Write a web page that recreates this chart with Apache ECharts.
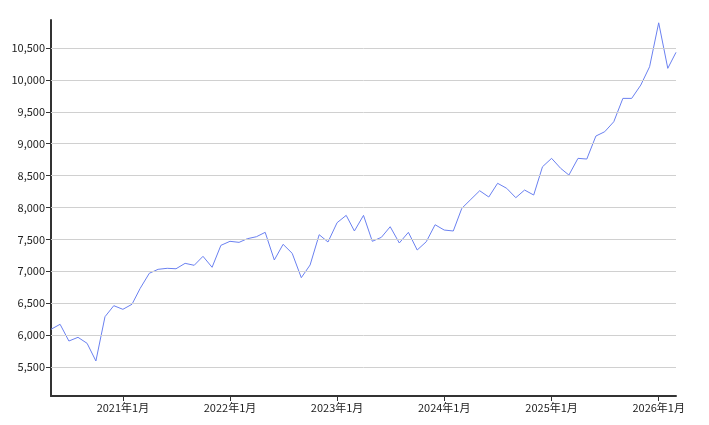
<!DOCTYPE html>
<html>
<head>
<meta charset="utf-8">
<script src="https://cdn.jsdelivr.net/npm/echarts@6/dist/echarts.min.js"></script>
<style>html,body{margin:0;padding:0;background:#fff}#chart{width:709px;height:425px}</style>
</head>
<body>
<div id="chart"></div>
<script>
// monthly values from 2020-05 to 2026-03
const startYear = 2020, startMonth = 5;
const values = [
  6091, 6169, 5907, 5965, 5871, 5594, 6288, 6461, 6404, 6483, 6733, 6969,
  7031, 7047, 7040, 7125, 7094, 7235, 7063, 7407, 7470, 7454, 7511, 7542,
  7611, 7177, 7423, 7282, 6900, 7099, 7574, 7459, 7762, 7877, 7632, 7877,
  7470, 7533, 7699, 7444, 7611, 7334, 7464, 7730, 7647, 7632, 7987, 8128,
  8263, 8165, 8380, 8301, 8154, 8274, 8196, 8639, 8771, 8614, 8509, 8771,
  8760, 9121, 9188, 9345, 9711, 9711, 9920, 10207, 10896, 10182, 10433
];
const yTicks = [5500, 6000, 6500, 7000, 7500, 8000, 8500, 9000, 9500, 10000, 10500];
const xTickYears = [2021, 2022, 2023, 2024, 2025, 2026];

// x is days since the first month
const DAY = 86400000;
const t0 = Date.UTC(startYear, startMonth - 1, 1);
function dayOf(y, m) { return (Date.UTC(y, m, 1) - t0) / DAY; }
const points = values.map(function (v, i) { return [dayOf(startYear, startMonth - 1 + i), v]; });
const xTickDays = xTickYears.map(function (y) { return dayOf(y, 0); });
function dayLabel(d) {
  const dt = new Date(t0 + d * DAY);
  return dt.getUTCFullYear() + '年' + (dt.getUTCMonth() + 1) + '月';
}

const chart = echarts.init(document.getElementById('chart'));
const font = 'Noto Sans CJK JP';
chart.setOption({
  animation: false,
  grid: { left: 51, right: 33, top: 20, bottom: 29 },
  xAxis: {
    type: 'value',
    min: 0,
    max: points[points.length - 1][0],
    axisLine: { lineStyle: { color: '#333', width: 2 } },
    axisTick: { show: true, customValues: xTickDays, length: 5, lineStyle: { color: '#333' } },
    axisLabel: { customValues: xTickDays, color: '#222', fontFamily: font, fontSize: 11, margin: 6, formatter: dayLabel },
    splitLine: { show: false }
  },
  yAxis: {
    type: 'value',
    min: 5045,
    max: 10940,
    axisLine: { show: true, lineStyle: { color: '#333', width: 2 } },
    axisTick: { show: true, customValues: yTicks, length: 5, lineStyle: { color: '#333' } },
    axisLabel: {
      customValues: yTicks, color: '#222', fontFamily: font, fontSize: 11, margin: 6,
      formatter: function (v) { return v.toLocaleString('en-US'); }
    },
    splitLine: { show: false }
  },
  series: [{
    type: 'line',
    data: points,
    showSymbol: false,
    lineStyle: { color: '#6a80f0', width: 1 },
    markLine: {
      silent: true, symbol: 'none', label: { show: false },
      lineStyle: { color: '#d0d0d0', type: 'solid', width: 1 },
      data: yTicks.map(function (t) { return { yAxis: t }; })
    }
  }]
});
</script>
</body>
</html>
